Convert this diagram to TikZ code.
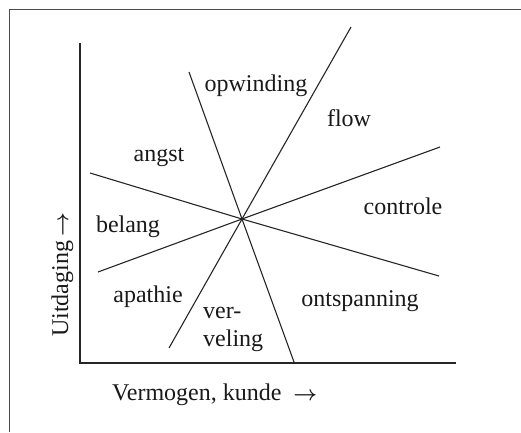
\documentclass[tikz,border=0pt]{standalone}
\usepackage{amsmath}
\usepackage{fontspec}
\setmainfont{Liberation Serif}
\usepackage{tikz}
\usepackage{xcolor}

\newcommand{\pijl}{{\fontsize{21}{21}\selectfont$\boldsymbol{\rightarrow}$}}

\tikzset{
  zone/.style={font=\fontsize{24}{28}\selectfont, inner sep=0pt, text=black!90},
  lijn/.style={line width=1.1pt, black!85}
}

\begin{document}
\begin{tikzpicture}[x=1pt, y=-1pt]
    \useasboundingbox (0,0) rectangle (521,432);
    % Kader
    \draw[line width=0.9pt, black!70] (9,432) -- (9,9) -- (521,9);

    % Assen
    \draw[lijn] (80,43) -- (80,363) -- (456,363);

    % Midden en eindpunten
    \coordinate (midden) at (242,219);
    \coordinate (steilO) at (169,348);
    \coordinate (steilB) at (351,27);
    \coordinate (schuinB) at (189,72);
    \coordinate (schuinO) at (294,362);
    \coordinate (vlakL) at (90,173);
    \coordinate (vlakR) at (439,276);
    \coordinate (lagL) at (98,272);
    \coordinate (lagR) at (440,147);

    % Lijnen door het midden
    \draw[lijn] (steilO) -- (midden) -- (steilB);
    \draw[lijn] (schuinB) -- (midden) -- (schuinO);
    \draw[lijn] (vlakL) -- (midden) -- (vlakR);
    \draw[lijn] (lagL) -- (midden) -- (lagR);

    % Gebieden
    \node[zone, anchor=base] (opwinding) at (256,91) {opwinding};
    \node[zone, anchor=base] (flow) at (349,126) {flow};
    \node[zone, anchor=base] (angst) at (159,161) {angst};
    \node[zone, anchor=base] (controle) at (403,214) {controle};
    \node[zone, anchor=base] (belang) at (128,232) {belang};
    \node[zone, anchor=base] (apathie) at (148,302) {apathie};
    \node[zone, anchor=base] (ontspanning) at (360,306) {ontspanning};
    \node[zone, anchor=base west] (ver) at (203,318) {ver-};
    \node[zone, anchor=base west] (veling) at (203,346) {veling};

    % Asnamen
    \node[zone, anchor=base west] (vermogen) at (112,400) {Vermogen, kunde\hspace{0.5em}\pijl};
    \node[zone, anchor=base west, rotate=90] (uitdaging) at (68,337) {Uitdaging\hspace{0.2em}\pijl};
\end{tikzpicture}
\end{document}
